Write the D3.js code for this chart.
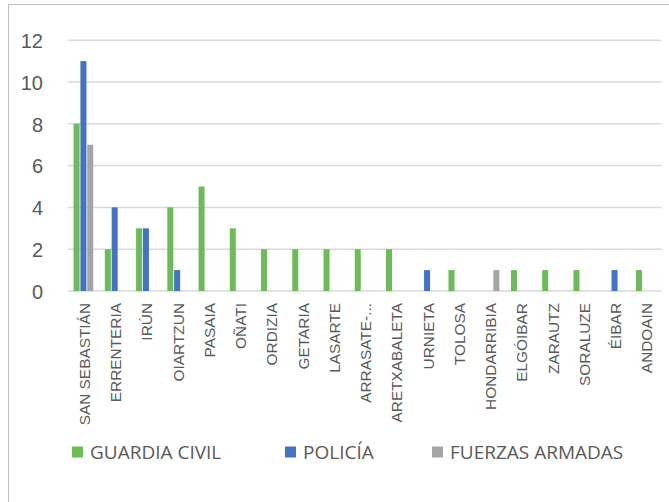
<!DOCTYPE html>
<html>
<head>
<meta charset="utf-8">
<script src="https://cdn.jsdelivr.net/npm/d3@7"></script>
<style>
  html, body { margin: 0; padding: 0; background: #fff; }
  svg { display: block; font-family: "Open Sans", sans-serif; }
</style>
</head>
<body>
<svg id="chart" width="669" height="502"></svg>
<script>
// Municipalities on the x axis
const categories = [
  "SAN SEBASTIÁN", "ERRENTERIA", "IRÚN", "OIARTZUN", "PASAIA", "OÑATI",
  "ORDIZIA", "GETARIA", "LASARTE", "ARRASATE-...", "ARETXABALETA", "URNIETA",
  "TOLOSA", "HONDARRIBIA", "ELGÓIBAR", "ZARAUTZ", "SORALUZE", "ÉIBAR", "ANDOAIN"
];

// Counts per security body
const guardiaCivil   = [8, 2, 3, 4, 5, 3, 2, 2, 2, 2, 2, 0, 1, 0, 1, 1, 1, 0, 1];
const policia        = [11, 4, 3, 1, 0, 0, 0, 0, 0, 0, 0, 1, 0, 0, 0, 0, 0, 1, 0];
const fuerzasArmadas = [7, 0, 0, 0, 0, 0, 0, 0, 0, 0, 0, 0, 0, 1, 0, 0, 0, 0, 0];

const seriesNames = ["GUARDIA CIVIL", "POLICÍA", "FUERZAS ARMADAS"];
const seriesColors = ["#6cbb57", "#4472c4", "#a5a5a5"];
const yTicks = [0, 2, 4, 6, 8, 10, 12];

const seriesValues = [guardiaCivil, policia, fuerzasArmadas];
const rows = categories.map((c, i) => ({
  category: c,
  values: seriesNames.map((s, k) => ({ key: s, value: seriesValues[k][i] }))
}));

const svg = d3.select("#chart");
const textColor = "#595959";

// Chart frame
svg.append("rect")
  .attr("x", 8.5).attr("y", 4.5)
  .attr("width", 700).attr("height", 600)
  .attr("fill", "none")
  .attr("stroke", "#bfbfbf")
  .attr("stroke-width", 1);

const plot = { left: 67.8, right: 661.4, top: 40.2, bottom: 291 };

const x0 = d3.scaleBand()
  .domain(categories)
  .range([plot.left, plot.right])
  .paddingInner(0.37)
  .paddingOuter(0.185);

const x1 = d3.scaleBand()
  .domain(seriesNames)
  .range([0, x0.bandwidth()])
  .paddingInner(0.12);

const y = d3.scaleLinear()
  .domain([0, 12])
  .range([plot.bottom, plot.top]);

const color = d3.scaleOrdinal().domain(seriesNames).range(seriesColors);

// Horizontal gridlines
svg.append("g")
  .selectAll("line")
  .data(yTicks)
  .join("line")
  .attr("x1", plot.left).attr("x2", plot.right)
  .attr("y1", d => y(d)).attr("y2", d => y(d))
  .attr("stroke", "#d9d9d9")
  .attr("stroke-width", 1.5);

// Y axis labels
const yAxis = d3.axisLeft(y).tickValues(yTicks).tickSize(0).tickPadding(0);
const gy = svg.append("g")
  .attr("transform", `translate(43,0)`)
  .call(yAxis);
gy.select(".domain").remove();
gy.selectAll("text")
  .attr("fill", textColor)
  .style("font-size", "20px")
  .attr("dy", "0.36em");

// Bars
svg.append("g")
  .selectAll("g")
  .data(rows)
  .join("g")
  .attr("transform", d => `translate(${x0(d.category)},0)`)
  .selectAll("rect")
  .data(d => d.values.filter(v => v.value > 0))
  .join("rect")
  .attr("x", d => x1(d.key))
  .attr("width", x1.bandwidth())
  .attr("y", d => y(d.value))
  .attr("height", d => y(0) - y(d.value))
  .attr("fill", d => color(d.key));

// Category labels (rotated)
const xAxis = d3.axisBottom(x0).tickSize(0).tickPadding(0);
const gx = svg.append("g")
  .attr("transform", `translate(0,${plot.bottom})`)
  .call(xAxis);
gx.select(".domain").remove();
gx.selectAll("text")
  .attr("fill", textColor)
  .style("font-size", "15.4px")
  .attr("text-anchor", "end")
  .attr("transform", "rotate(-90)")
  .attr("x", -12)
  .attr("y", 1)
  .attr("dy", "0.36em");

// Legend
const legendItems = [
  { key: seriesNames[0], x: 72 },
  { key: seriesNames[1], x: 285 },
  { key: seriesNames[2], x: 432 }
];
const legend = svg.append("g");
const li = legend.selectAll("g")
  .data(legendItems)
  .join("g")
  .attr("transform", d => `translate(${d.x},452)`);
li.append("rect")
  .attr("x", 0).attr("y", -5.5)
  .attr("width", 11).attr("height", 11)
  .attr("fill", d => color(d.key));
li.append("text")
  .attr("x", 18)
  .attr("dy", "0.36em")
  .attr("fill", textColor)
  .style("font-size", "19px")
  .text(d => d.key);
</script>
</body>
</html>
